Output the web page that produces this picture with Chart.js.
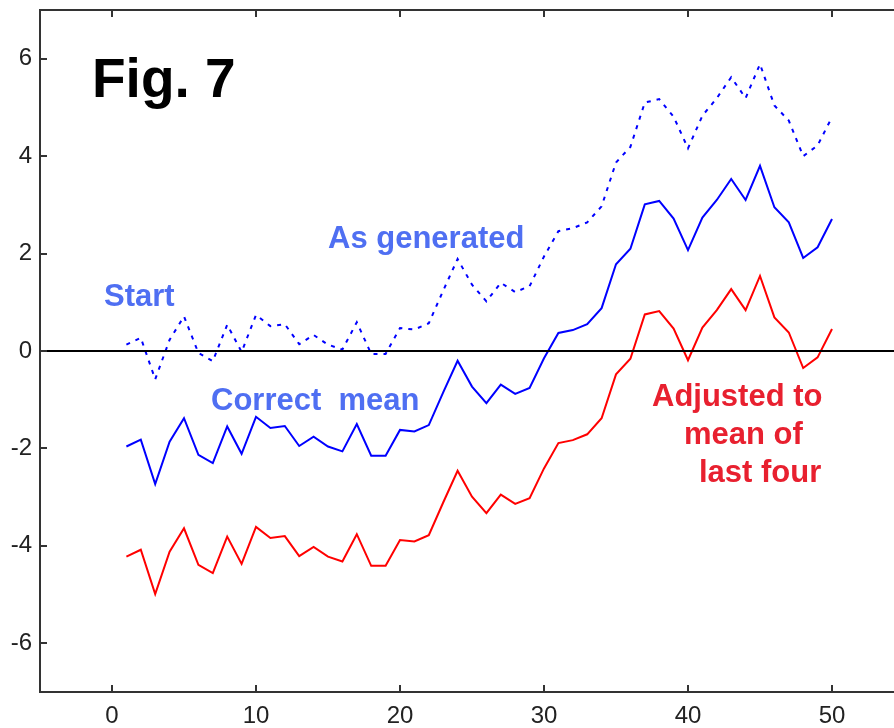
<!DOCTYPE html>
<html>
<head>
<meta charset="utf-8">
<script src="https://cdn.jsdelivr.net/npm/chart.js@4"></script>
<style>
  html, body { margin: 0; padding: 0; background: #fff; overflow: hidden; }
  #wrap { width: 904px; height: 728px; position: relative; }
</style>
</head>
<body>
<div id="wrap"><canvas id="fig"></canvas></div>
<script>
// x positions (1..50)
const xs = [1,2,3,4,5,6,7,8,9,10,11,12,13,14,15,16,17,18,19,20,
  21,22,23,24,25,26,27,28,29,30,31,32,33,34,35,36,37,38,39,40,
  41,42,43,44,45,46,47,48,49,50];

// dashed blue - "As generated"
const asGenerated = [0.13,0.27,-0.58,0.23,0.71,-0.04,-0.21,0.54,-0.02,0.74,
  0.51,0.55,0.14,0.33,0.13,0.03,0.59,-0.06,-0.06,0.47,
  0.44,0.57,1.24,1.89,1.36,1.02,1.40,1.21,1.33,1.94,
  2.46,2.52,2.64,2.97,3.87,4.19,5.10,5.17,4.81,4.16,
  4.83,5.19,5.62,5.19,5.89,5.04,4.73,4.00,4.22,4.80];

// solid blue - "Correct mean"
const correctMean = [-1.96,-1.82,-2.73,-1.86,-1.38,-2.13,-2.30,-1.55,-2.11,-1.35,
  -1.58,-1.54,-1.95,-1.76,-1.96,-2.06,-1.50,-2.15,-2.15,-1.62,
  -1.65,-1.52,-0.85,-0.20,-0.73,-1.07,-0.69,-0.88,-0.76,-0.15,
  0.37,0.43,0.55,0.88,1.78,2.10,3.01,3.08,2.72,2.07,
  2.74,3.10,3.53,3.10,3.80,2.95,2.64,1.91,2.13,2.71];

// red - "Adjusted to mean of last four"
const adjusted = [-4.22,-4.08,-4.99,-4.12,-3.64,-4.39,-4.56,-3.81,-4.37,-3.61,
  -3.84,-3.80,-4.21,-4.02,-4.22,-4.32,-3.76,-4.41,-4.41,-3.88,
  -3.91,-3.78,-3.11,-2.46,-2.99,-3.33,-2.95,-3.14,-3.02,-2.41,
  -1.89,-1.83,-1.71,-1.38,-0.48,-0.16,0.75,0.82,0.46,-0.19,
  0.48,0.84,1.27,0.84,1.54,0.69,0.38,-0.35,-0.13,0.45];

const zeroLine = [{x: -5, y: 0}, {x: 55, y: 0}];

const xTicks = [0, 10, 20, 30, 40, 50];
const yTicks = [-6, -4, -2, 0, 2, 4, 6];

const pts = arr => xs.map((x, i) => ({x: x, y: arr[i]}));

// text labels on the plot (pixel positions, left edge + baseline)
const labelFont = "bold 31px 'Liberation Sans', Arial, sans-serif";
const notes = [
  {text: "Fig. 7", x: 92, y: 97, color: "#000", font: "bold 55px 'Liberation Sans', Arial, sans-serif"},
  {text: "As generated", x: 328, y: 248, color: "#4f6ff2", font: labelFont},
  {text: "Start", x: 104, y: 306, color: "#4f6ff2", font: labelFont},
  {text: "Correct  mean", x: 211, y: 410, color: "#4f6ff2", font: labelFont},
  {text: "Adjusted to", x: 652, y: 406, color: "#e8202f", font: labelFont},
  {text: "mean of", x: 684, y: 444, color: "#e8202f", font: labelFont},
  {text: "last four", x: 699, y: 482, color: "#e8202f", font: labelFont}
];

// inward tick marks + top frame line, then the labels
const frame = {
  id: "frame",
  afterDraw(chart) {
    const ctx = chart.ctx;
    const a = chart.chartArea;
    const sx = chart.scales.x, sy = chart.scales.y;
    ctx.save();
    ctx.strokeStyle = "#333";
    ctx.lineWidth = 2;
    ctx.beginPath();
    ctx.moveTo(a.left, a.top);
    ctx.lineTo(a.right, a.top);
    sx.ticks.forEach(t => {
      const px = Math.round(sx.getPixelForValue(t.value));
      ctx.moveTo(px, a.bottom);
      ctx.lineTo(px, a.bottom - 7);
      ctx.moveTo(px, a.top);
      ctx.lineTo(px, a.top + 7);
    });
    sy.ticks.forEach(t => {
      const py = Math.round(sy.getPixelForValue(t.value));
      ctx.moveTo(a.left, py);
      ctx.lineTo(a.left + 7, py);
    });
    ctx.stroke();

    ctx.textAlign = "left";
    ctx.textBaseline = "alphabetic";
    notes.forEach(n => {
      ctx.font = n.font;
      ctx.fillStyle = n.color;
      ctx.fillText(n.text, n.x, n.y);
    });
    ctx.restore();
  }
};

const tickFont = {family: "'Liberation Sans', Arial, sans-serif", size: 24};

new Chart(document.getElementById("fig"), {
  type: "line",
  data: {
    datasets: [
      {data: zeroLine, borderColor: "#000", borderWidth: 2},
      {data: pts(asGenerated), borderColor: "#0000ff", borderWidth: 2, borderDash: [4, 6]},
      {data: pts(correctMean), borderColor: "#0000ff", borderWidth: 2},
      {data: pts(adjusted), borderColor: "#ff0000", borderWidth: 2}
    ]
  },
  options: {
    responsive: true,
    maintainAspectRatio: false,
    animation: false,
    layout: {padding: {top: 10, right: 0, left: 0, bottom: 0}},
    elements: {point: {radius: 0}, line: {tension: 0, fill: false}},
    plugins: {legend: {display: false}, tooltip: {enabled: false}},
    scales: {
      x: {
        type: "linear",
        min: -5,
        max: 55,
        afterBuildTicks: axis => { axis.ticks = xTicks.map(v => ({value: v})); },
        afterFit: axis => { axis.height = 36; axis.paddingLeft = 0; axis.paddingRight = 0; },
        grid: {display: false, drawTicks: false},
        border: {display: true, color: "#333", width: 2},
        ticks: {font: tickFont, color: "#222", padding: 10, maxRotation: 0}
      },
      y: {
        type: "linear",
        min: -7,
        max: 7,
        afterBuildTicks: axis => { axis.ticks = yTicks.map(v => ({value: v})); },
        afterFit: axis => { axis.width = 40; axis.paddingTop = 0; axis.paddingBottom = 0; },
        grid: {display: false, drawTicks: false},
        border: {display: true, color: "#333", width: 2},
        ticks: {font: tickFont, color: "#222", padding: 8}
      }
    }
  },
  plugins: [frame]
});
</script>
</body>
</html>
